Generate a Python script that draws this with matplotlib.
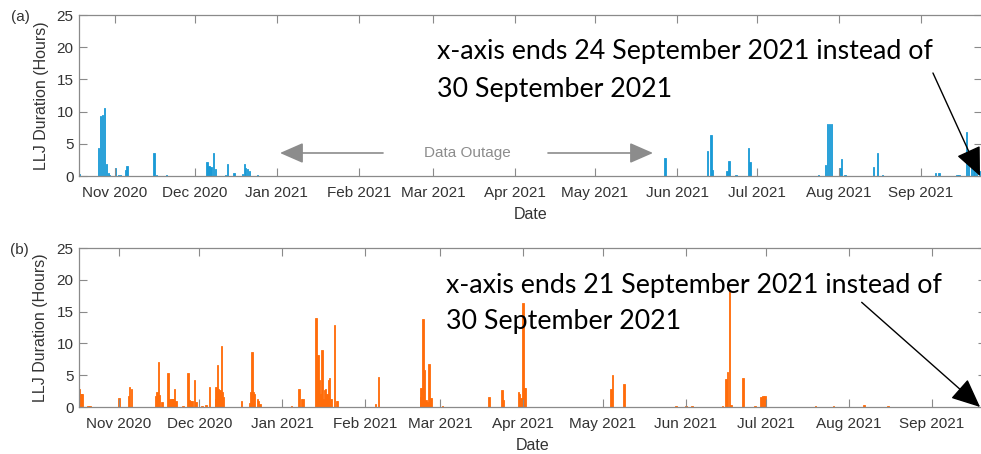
import numpy as np
import pandas as pd
import matplotlib
matplotlib.use('Agg')
import matplotlib.pyplot as plt
import matplotlib.dates as mdates

# LLJ event durations, site (a) and site (b)
dates_a = ["2020-10-18 12:00", "2020-10-25 18:00", "2020-10-26 12:00", "2020-10-27 06:00",
           "2020-10-28 00:00", "2020-10-28 18:00", "2020-10-29 12:00", "2020-10-30 00:00",
           "2020-11-01 06:00", "2020-11-02 06:00", "2020-11-03 00:00", "2020-11-05 00:00",
           "2020-11-05 12:00", "2020-11-15 18:00", "2020-11-16 18:00", "2020-11-20 12:00",
           "2020-12-05 18:00", "2020-12-06 12:00", "2020-12-07 06:00", "2020-12-08 06:00",
           "2020-12-09 00:00", "2020-12-12 18:00", "2020-12-13 12:00", "2020-12-15 22:00",
           "2020-12-19 00:00", "2020-12-19 18:00", "2020-12-20 06:00", "2020-12-21 00:00",
           "2020-12-21 18:00", "2020-12-24 18:00",
           "2021-05-27 12:00", "2021-06-12 12:00", "2021-06-13 18:00", "2021-06-14 06:00",
           "2021-06-19 18:00", "2021-06-20 12:00", "2021-06-23 06:00", "2021-06-28 00:00",
           "2021-06-28 12:00", "2021-07-24 06:00", "2021-07-27 00:00", "2021-07-27 18:00",
           "2021-07-28 12:00", "2021-07-29 06:00", "2021-08-01 12:00", "2021-08-02 00:00",
           "2021-08-03 06:00", "2021-08-14 00:00", "2021-08-15 12:00", "2021-08-17 12:00",
           "2021-09-06 12:00", "2021-09-07 18:00", "2021-09-14 12:00", "2021-09-15 06:00",
           "2021-09-18 06:00", "2021-09-19 00:00", "2021-09-20 00:00", "2021-09-21 00:00",
           "2021-09-22 00:00", "2021-09-23 00:00"]
hours_a = [0.3, 4.3, 9.3, 9.5,
           10.5, 1.9, 0.4, 0.2,
           1.2, 0.2, 0.2, 1.0,
           1.5, 3.5, 0.2, 0.2,
           2.1, 1.6, 1.4, 3.5,
           1.1, 0.2, 1.8, 0.4,
           0.3, 1.8, 1.3, 1.1,
           0.8, 0.2,
           2.8, 3.9, 6.3, 0.9,
           0.8, 2.3, 0.2, 4.3,
           2.1, 0.2, 1.7, 8.0,
           8.0, 8.0, 1.3, 2.6,
           0.2, 1.4, 3.6, 0.2,
           0.4, 0.4, 0.2, 0.2,
           6.8, 3.0, 3.2, 1.5,
           1.0, 0.8]

dates_b = ["2020-10-17 06:00", "2020-10-17 18:00", "2020-10-18 06:00", "2020-10-20 12:00",
           "2020-10-21 06:00", "2020-11-01 00:00", "2020-11-04 12:00", "2020-11-05 00:00",
           "2020-11-05 18:00", "2020-11-14 18:00", "2020-11-15 06:00", "2020-11-15 18:00",
           "2020-11-16 06:00", "2020-11-17 00:00", "2020-11-19 06:00", "2020-11-20 00:00",
           "2020-11-20 18:00", "2020-11-21 06:00", "2020-11-21 18:00", "2020-11-22 06:00",
           "2020-11-25 00:00", "2020-11-26 18:00", "2020-11-27 06:00", "2020-11-27 18:00",
           "2020-11-28 06:00", "2020-11-29 06:00", "2020-11-29 18:00", "2020-12-02 00:00",
           "2020-12-03 12:00", "2020-12-04 22:00", "2020-12-07 00:00", "2020-12-07 06:00",
           "2020-12-07 18:00", "2020-12-08 06:00", "2020-12-08 18:00", "2020-12-09 06:00",
           "2020-12-09 18:00", "2020-12-10 00:00", "2020-12-16 18:00", "2020-12-19 18:00",
           "2020-12-20 06:00", "2020-12-20 18:00", "2020-12-21 06:00", "2020-12-21 18:00",
           "2020-12-22 18:00", "2020-12-23 06:00", "2020-12-23 18:00",
           "2021-01-04 12:00", "2021-01-07 06:00", "2021-01-08 06:00", "2021-01-08 18:00",
           "2021-01-13 14:00", "2021-01-14 00:00", "2021-01-14 12:00", "2021-01-15 00:00",
           "2021-01-15 12:00", "2021-01-15 20:00", "2021-01-16 06:00", "2021-01-16 18:00",
           "2021-01-17 06:00", "2021-01-17 18:00", "2021-01-18 06:00", "2021-01-18 18:00",
           "2021-01-19 06:00", "2021-01-20 12:00", "2021-01-21 06:00", "2021-01-21 18:00",
           "2021-02-05 00:00", "2021-02-06 00:00", "2021-02-21 18:00", "2021-02-22 00:00",
           "2021-02-22 18:00", "2021-02-23 06:00", "2021-02-23 18:00", "2021-02-24 06:00",
           "2021-02-25 00:00", "2021-02-25 18:00", "2021-03-02 00:00", "2021-03-19 10:00",
           "2021-03-24 06:00", "2021-03-24 18:00", "2021-03-30 08:00", "2021-03-30 20:00",
           "2021-03-31 08:00", "2021-04-01 00:00", "2021-04-01 12:00", "2021-04-01 22:00",
           "2021-05-03 22:00", "2021-05-04 12:00", "2021-05-08 18:00",
           "2021-05-28 06:00", "2021-06-01 00:00", "2021-06-03 06:00", "2021-06-14 18:00",
           "2021-06-16 00:00", "2021-06-16 12:00", "2021-06-17 06:00", "2021-06-17 18:00",
           "2021-06-22 06:00", "2021-06-26 18:00", "2021-06-29 00:00", "2021-06-29 18:00",
           "2021-06-30 12:00", "2021-07-19 12:00", "2021-07-26 06:00", "2021-08-06 12:00",
           "2021-08-15 12:00"]
hours_b = [2.9, 2.0, 2.0, 0.2,
           0.2, 1.4, 1.7, 3.1,
           2.8, 1.8, 2.3, 7.1,
           1.9, 0.8, 5.4, 1.3,
           1.2, 1.2, 2.8, 1.0,
           0.2, 5.4, 1.1, 1.0,
           1.0, 4.2, 0.8, 0.2,
           0.3, 3.1, 1.3, 3.2,
           6.6, 2.9, 2.7, 9.6,
           2.3, 1.6, 0.9, 0.7,
           2.4, 8.6, 2.4, 2.1,
           1.2, 0.9, 0.5,
           0.2, 2.9, 1.3, 1.2,
           14.0, 4.5, 8.1, 4.2,
           2.1, 8.9, 1.3, 2.6,
           2.8, 2.1, 4.2, 4.5,
           1.3, 12.9, 1.0, 0.9,
           0.5, 4.7, 1.6, 3.0,
           13.8, 5.8, 1.1, 0.8,
           6.8, 1.4, 0.2, 1.6,
           2.6, 1.1, 2.4, 2.0,
           1.4, 16.3, 3.0, 3.0,
           2.9, 5.1, 3.6,
           0.2, 0.2, 0.2, 0.2,
           4.4, 5.5, 18.4, 0.3,
           4.6, 0.2, 1.5, 1.7,
           1.8, 0.15, 0.15, 0.3,
           0.2]

xlim_a = ["2020-10-18 10:00", "2021-09-24 00:00"]
xlim_b = ["2020-10-17 01:00", "2021-09-21 00:00"]

spine_col = '#8a8a8a'
label_col = '#333333'
plt.rcParams['font.family'] = ['Liberation Sans', 'DejaVu Sans']


def style_axes(ax, xlim):
    ax.set_xlim(mdates.date2num(pd.to_datetime(xlim)))
    ax.set_ylim(0, 25)
    ax.set_yticks([0, 5, 10, 15, 20, 25])
    ax.xaxis.set_major_locator(mdates.MonthLocator())
    ax.xaxis.set_major_formatter(mdates.DateFormatter('%b %Y'))
    ax.tick_params(direction='in', top=True, right=True, length=5.5, width=0.8,
                   color=spine_col, labelcolor=label_col, labelsize=11)
    ax.tick_params(axis='x', pad=7)
    ax.tick_params(axis='y', pad=4)
    for s in ax.spines.values():
        s.set_color(spine_col)
        s.set_linewidth(0.9)
    ax.set_ylabel('LLJ Duration (Hours)', fontsize=11.5, color=label_col)
    ax.yaxis.label.set_va('center')
    ax.set_xlabel('Date', fontsize=11.5, color=label_col)
    ax.xaxis.label.set_va('center')


def note(ax, lines, x0, y1, y2, tail, tip):
    ax.text(x0, y1, lines[0], transform=ax.transAxes, fontsize=19.3, family='Lato',
            va='center', ha='left', color='black', zorder=6)
    ax.text(x0, y2, lines[1], transform=ax.transAxes, fontsize=19.3, family='Lato',
            va='center', ha='left', color='black', zorder=6)
    ax.annotate('', xy=tip, xytext=tail, xycoords='axes fraction', textcoords='axes fraction',
                arrowprops=dict(arrowstyle='-|>,head_length=0.9,head_width=0.4', color='black',
                                lw=1.0, mutation_scale=20, shrinkA=0, shrinkB=0),
                annotation_clip=False, zorder=7)


fig = plt.figure(figsize=(9.81, 4.54), dpi=100)
ax_a = fig.add_axes([0.0805, 0.6123, 0.9205, 0.3546])
ax_b = fig.add_axes([0.0805, 0.1035, 0.9241, 0.3502])

xa = mdates.date2num(pd.to_datetime(dates_a))
xb = mdates.date2num(pd.to_datetime(dates_b))
ax_a.bar(xa, hours_a, width=0.55, color='#1a9ad6', edgecolor='#1a9ad6', linewidth=0.6)
ax_b.bar(xb, hours_b, width=0.55, color='#ff6c0a', edgecolor='#ff6c0a', linewidth=0.6)

style_axes(ax_a, xlim_a)
style_axes(ax_b, xlim_b)
ax_a.yaxis.set_label_coords(-0.042, 0.5)
ax_b.yaxis.set_label_coords(-0.042, 0.5)
ax_a.xaxis.set_label_coords(0.5, -0.236)
ax_b.xaxis.set_label_coords(0.5, -0.239)

# data outage marker on panel (a)
gray = '#8c8c8c'
ax_a.text(0.4297, 0.143, 'Data Outage', transform=ax_a.transAxes, fontsize=11,
          color=gray, ha='center', va='center')
for tail, tip in [((0.3367, 0.143), (0.2226, 0.143)), ((0.5194, 0.143), (0.6357, 0.143))]:
    ax_a.annotate('', xy=tip, xytext=tail, xycoords='axes fraction', textcoords='axes fraction',
                  arrowprops=dict(arrowstyle='-|>,head_length=0.8,head_width=0.35', color=gray,
                                  lw=1.2, mutation_scale=18, shrinkA=0, shrinkB=0))

note(ax_a, ['x-axis ends 24 September 2021 instead of', '30 September 2021'],
     0.3965, 0.776, 0.54, (0.9457, 0.64), (0.9978, 0.0))
note(ax_b, ['x-axis ends 21 September 2021 instead of', '30 September 2021'],
     0.405, 0.767, 0.535, (0.8634, 0.6585), (0.994, 0.0))

fig.text(20 / 981, 1 - 17 / 454, '(a)', fontsize=11, color=label_col, ha='center', va='center')
fig.text(19 / 981, 1 - 250 / 454, '(b)', fontsize=11, color=label_col, ha='center', va='center')

fig.savefig('out.png', dpi=100)
